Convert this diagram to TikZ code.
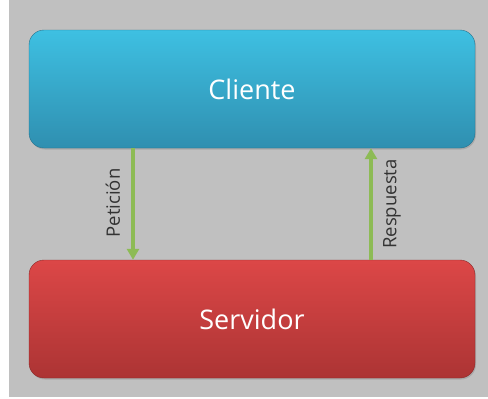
\documentclass[tikz,border=0pt]{standalone}
\usepackage{fontspec}
\setmainfont{Open Sans}
\usetikzlibrary{arrows.meta,shadows}
\definecolor{bggray}{HTML}{C0C0C0}
\definecolor{cltop}{HTML}{3EC0E2}
\definecolor{clbot}{HTML}{2F8FB0}
\definecolor{svtop}{HTML}{DC4747}
\definecolor{svbot}{HTML}{AC3434}
\definecolor{arrowgreen}{HTML}{8DBB55}
\definecolor{labelgray}{HTML}{333333}
\tikzset{
  block/.style={rounded corners=15pt, minimum width=446pt, minimum height=118pt,
    inner sep=0pt, text=white, font=\fontsize{27}{31}\selectfont,
    drop shadow={shadow xshift=1pt, shadow yshift=-1.5pt, opacity=0.35}},
  flow/.style={draw=arrowgreen, line width=3.2pt,
    -{Triangle[width=12pt,length=11pt]}},
  flowlabel/.style={rotate=90, text=labelgray, font=\fontsize{18.5}{22}\selectfont, inner sep=0pt}
}
\begin{document}
\begin{tikzpicture}[x=1pt,y=-1pt]
  \useasboundingbox (0,0) rectangle (488,399);
  \fill[white] (0,0) rectangle (488,399);
  \fill[bggray] (9,0) rectangle (488,397);

  \node[block, top color=cltop, bottom color=clbot, draw=clbot!80!black] (cliente) at (252,89) {Cliente};
  \node[block, top color=svtop, bottom color=svbot, draw=svbot!80!black] (servidor) at (252,319) {Servidor};

  \coordinate (xpet) at (133,0);
  \coordinate (xres) at (371,0);
  \draw[flow] (xpet |- cliente.south) -- (xpet |- servidor.north);
  \draw[flow] (xres |- servidor.north) -- (xres |- cliente.south);

  \node[flowlabel] (lpet) at (113,203) {Petición};
  \node[flowlabel] (lres) at (392,204) {Respuesta};
\end{tikzpicture}
\end{document}
